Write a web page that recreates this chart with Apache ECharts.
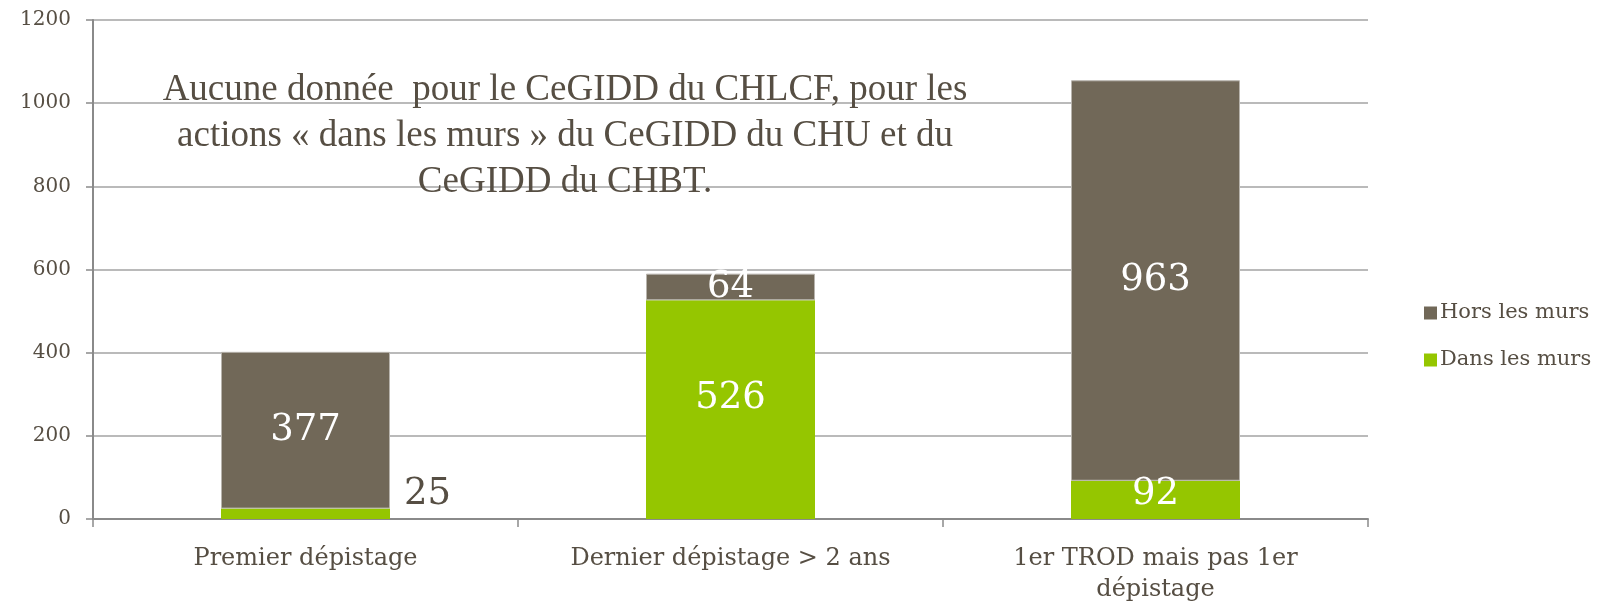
<!DOCTYPE html>
<html><head><meta charset="utf-8">
<script src="https://cdn.jsdelivr.net/npm/echarts@6/dist/echarts.min.js"></script>
<style>html,body{margin:0;padding:0;background:#fff}#c{width:1606px;height:605px}</style>
</head><body><div id="c"></div>
<script>
const categories = ['Premier dépistage', 'Dernier dépistage > 2 ans', '1er TROD mais pas 1er\ndépistage'];
const dansLesMurs = [25, 526, 92];
const horsLesMurs = [377, 64, 963];
const seriesNames = ['Hors les murs', 'Dans les murs'];
const yTicks = { min: 0, max: 1200, interval: 200 };
const noteLines = ['Aucune donnée  pour le CeGIDD du CHLCF, pour les', 'actions « dans les murs » du CeGIDD du CHU et du', 'CeGIDD du CHBT.'];

const txt = '#564e43';
const serif = 'DejaVu Serif';
const chart = echarts.init(document.getElementById('c'));

const greenData = dansLesMurs.map((v, i) => {
  if (i === 0) return { value: v, label: { position: 'right', distance: 14, offset: [0, -19], color: txt } };
  if (i === 1) return { value: v, label: { offset: [0, -11] } };
  if (i === 2) return { value: v, label: { offset: [0, -5] } };
  return v;
});

chart.setOption({
  animation: false,
  grid: { left: 93, right: 238, top: 20, bottom: 83.5, containLabel: false },
  legend: {
    orient: 'vertical', left: 1419, top: 296,
    data: seriesNames,
    itemWidth: 13, itemHeight: 13, itemGap: 23,
    icon: 'rect',
    itemStyle: { borderWidth: 0 },
    textStyle: { fontFamily: serif, fontSize: 21, color: txt, lineHeight: 24, padding: [0, 0, 0, -2] }
  },
  xAxis: {
    type: 'category', data: categories,
    axisLine: { lineStyle: { color: '#8a8a8a', width: 2 } },
    axisTick: { show: true, length: 8, lineStyle: { color: '#8a8a8a', width: 1.5 } },
    axisLabel: { fontFamily: serif, fontSize: 24, color: txt, margin: 24, lineHeight: 31, interval: 0 }
  },
  yAxis: {
    type: 'value', min: yTicks.min, max: yTicks.max, interval: yTicks.interval,
    axisLine: { show: true, lineStyle: { color: '#8a8a8a', width: 2 } },
    axisTick: { show: true, length: 7, lineStyle: { color: '#8a8a8a', width: 1.5 } },
    splitLine: { lineStyle: { color: '#a3a3a3', width: 1.5 } },
    axisLabel: { fontFamily: serif, fontSize: 20, color: txt, margin: 22, formatter: v => String(v) }
  },
  series: [
    {
      name: 'Dans les murs', type: 'bar', stack: 'total', data: greenData,
      barWidth: 169,
      itemStyle: { color: '#95c600' },
      label: { show: true, position: 'inside', fontFamily: serif, fontSize: 37, color: '#ffffff' }
    },
    {
      name: 'Hors les murs', type: 'bar', stack: 'total', data: horsLesMurs,
      barWidth: 169,
      itemStyle: { color: '#716858', borderColor: '#b8b4ad', borderWidth: 1 },
      label: { show: true, position: 'inside', fontFamily: serif, fontSize: 37, color: '#ffffff' }
    }
  ],
  graphic: noteLines.map((t, i) => ({
    type: 'text', x: 565, y: 90 + i * 46,
    style: { text: t, align: 'center', verticalAlign: 'middle', fontFamily: 'Liberation Serif', fontSize: 37, fill: txt },
    z: 100
  }))
});
</script></body></html>
